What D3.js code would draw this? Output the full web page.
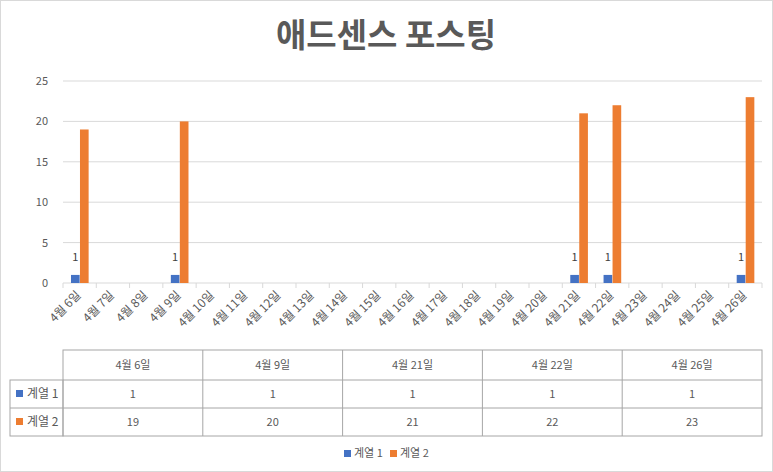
<!DOCTYPE html><html><head><meta charset="utf-8"><script src="https://cdn.jsdelivr.net/npm/d3@7"></script>
<style>body{margin:0;background:#fff}text{font-family:"Noto Sans CJK KR",sans-serif}</style></head><body><svg id="c" width="773" height="472"></svg><script>
const categories=["4월 6일","4월 7일","4월 8일","4월 9일","4월 10일","4월 11일","4월 12일","4월 13일","4월 14일","4월 15일","4월 16일","4월 17일","4월 18일","4월 19일","4월 20일","4월 21일","4월 22일","4월 23일","4월 24일","4월 25일","4월 26일"];
const series1=[1,null,null,1,null,null,null,null,null,null,null,null,null,null,null,1,1,null,null,null,1];
const series2=[19,null,null,20,null,null,null,null,null,null,null,null,null,null,null,21,22,null,null,null,23];
const seriesNames=["계열 1","계열 2"];
const colors=["#4472C4","#ED7D31"];
const yTicks=[0,5,10,15,20,25];
const tableCats=["4월 6일","4월 9일","4월 21일","4월 22일","4월 26일"];
const svg=d3.select("#c");
svg.append("rect").attr("x",0.5).attr("y",0.5).attr("width",772).attr("height",471).attr("fill","#fff").attr("stroke","#d9d9d9");
svg.append("text").attr("x",386).attr("y",47).attr("text-anchor","middle").attr("font-size",33).attr("font-weight","bold").attr("fill","#595959").text("애드센스 포스팅");
const x=d3.scaleBand().domain(categories).range([63,762]);
const y=d3.scaleLinear().domain([0,25]).range([283,81]);
const g=svg.append("g");
yTicks.forEach(t=>{g.append("line").attr("x1",63).attr("x2",762).attr("y1",y(t)).attr("y2",y(t)).attr("stroke","#d9d9d9");
g.append("text").attr("x",48).attr("y",y(t)+4).attr("text-anchor","end").attr("font-size",11).attr("fill","#595959").text(t);});
categories.forEach(c=>g.append("line").attr("x1",x(c)).attr("x2",x(c)).attr("y1",283).attr("y2",288).attr("stroke","#d9d9d9"));
g.append("line").attr("x1",762).attr("x2",762).attr("y1",283).attr("y2",288).attr("stroke","#d9d9d9");
const bw=x.bandwidth();
[series1,series2].forEach((s,si)=>{s.forEach((v,i)=>{if(v==null)return;const c=categories[i];
const bx=x(c)+bw*0.24+si*bw*0.27;
g.append("rect").attr("x",bx).attr("y",y(v)).attr("width",bw*0.26).attr("height",y(0)-y(v)).attr("fill",colors[si]);
if(si==0)g.append("text").attr("x",bx+bw*0.13).attr("y",y(v)-14).attr("text-anchor","middle").attr("font-size",11).attr("fill","#404040").text(v);});});
categories.forEach(c=>{const cx=x(c)+bw/2+2;g.append("text").attr("transform",`translate(${cx},296) rotate(-45)`).attr("text-anchor","end").attr("font-size",12).attr("fill","#595959").text(c);});
const tx=d3.scaleBand().domain(tableCats).range([63,762]);
const tg=svg.append("g").attr("stroke","#a6a6a6").attr("fill","none");
tg.append("rect").attr("x",63).attr("y",350).attr("width",699).attr("height",86);
tg.append("rect").attr("x",10).attr("y",380).attr("width",53).attr("height",56);
tg.append("line").attr("x1",10).attr("x2",762).attr("y1",408).attr("y2",408);
tg.append("line").attr("x1",63).attr("x2",762).attr("y1",380).attr("y2",380);
tableCats.slice(1).forEach(c=>tg.append("line").attr("x1",tx(c)).attr("x2",tx(c)).attr("y1",350).attr("y2",436));
tableCats.forEach((c,i)=>{const cx=tx(c)+tx.bandwidth()/2;
svg.append("text").attr("x",cx).attr("y",369).attr("text-anchor","middle").attr("font-size",11).attr("fill","#595959").text(c);
svg.append("text").attr("x",cx).attr("y",398).attr("text-anchor","middle").attr("font-size",11).attr("fill","#595959").text(series1[categories.indexOf(c)]);
svg.append("text").attr("x",cx).attr("y",426).attr("text-anchor","middle").attr("font-size",11).attr("fill","#595959").text(series2[categories.indexOf(c)]);});
seriesNames.forEach((n,i)=>{const ry=398+i*28;
svg.append("rect").attr("x",16).attr("y",ry-8).attr("width",7).attr("height",7).attr("fill",colors[i]);
svg.append("text").attr("x",27).attr("y",ry).attr("font-size",12).attr("fill","#595959").text(n);});
seriesNames.forEach((n,i)=>{const lx=344+i*46;
svg.append("rect").attr("x",lx).attr("y",450).attr("width",7).attr("height",7).attr("fill",colors[i]);
svg.append("text").attr("x",lx+10).attr("y",457).attr("font-size",11).attr("fill","#595959").text(n);});
</script></body></html>
